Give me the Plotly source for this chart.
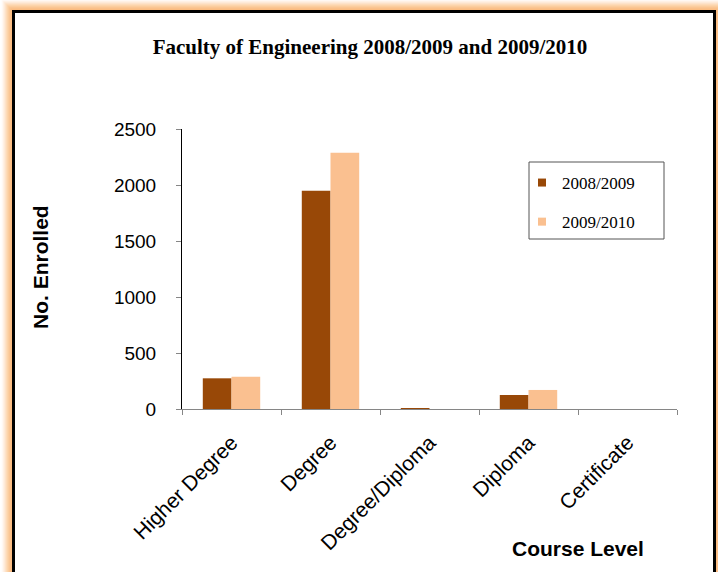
import plotly.graph_objects as go

# data
course_levels = ["Higher Degree", "Degree", "Degree/Diploma", "Diploma", "Certificate"]
enrolled_0809 = [274, 1949, 8, 125, 0]
enrolled_0910 = [288, 2288, 0, 170, 0]
series_names = ["2008/2009", "2009/2010"]
series_colors = ["#984807", "#FAC090"]

W_PX, H_PX = 718, 572
# plot area in pixels
L, R, T, B = 182, 677, 129, 409
SERIF = "Liberation Serif, Times New Roman, serif"
SANS = "Liberation Sans, Arial, sans-serif"


def px(x):
    """Pixel x to paper x."""
    return (x - L) / (R - L)


def py(y):
    """Pixel y to paper y."""
    return (B - y) / (B - T)


fig = go.Figure()
for name, vals, color in zip(series_names, [enrolled_0809, enrolled_0910], series_colors):
    fig.add_trace(
        go.Bar(
            x=course_levels,
            y=vals,
            name=name,
            marker=dict(color=color, line=dict(width=0)),
            showlegend=False,
        )
    )
    # legend entry with a small square swatch
    fig.add_trace(
        go.Scatter(
            x=[None], y=[None], mode="markers", name=name,
            marker=dict(symbol="square", size=8, color=color),
            legendgroup=name,
        )
    )

# orange glow + black frame around the whole chart
shapes = []
for i in range(12, 0, -1):
    a = 0.05 + (12 - i) * 0.025
    shapes.append(
        dict(
            type="rect", xref="paper", yref="paper", layer="below",
            x0=px(13.5 - i), x1=px(714.5 + i), y0=py(650), y1=py(11.5 - i),
            line=dict(width=0), fillcolor=f"rgba(251,180,110,{a:.3f})",
        )
    )
shapes.append(
    dict(
        type="rect", xref="paper", yref="paper", layer="below",
        x0=px(13.5), x1=px(714.5), y0=py(650), y1=py(11.5),
        line=dict(color="black", width=3), fillcolor="white",
    )
)
# legend box
shapes.append(
    dict(
        type="rect", xref="paper", yref="paper",
        x0=px(529), x1=px(664), y0=py(239), y1=py(162),
        line=dict(color="#555555", width=1), fillcolor="rgba(0,0,0,0)",
    )
)

fig.update_layout(
    width=W_PX,
    height=H_PX,
    template="none",
    paper_bgcolor="white",
    plot_bgcolor="rgba(0,0,0,0)",
    margin=dict(l=L, r=W_PX - R, t=T, b=H_PX - B, pad=0),
    barmode="group",
    bargap=0.42,
    bargroupgap=0,
    shapes=shapes,
    title=dict(
        text="<b>Faculty of Engineering 2008/2009 and 2009/2010</b>",
        font=dict(family=SERIF, size=21, color="black"),
        x=370 / W_PX, xref="container", xanchor="center",
        y=1 - 47 / H_PX, yref="container", yanchor="middle",
    ),
    legend=dict(
        x=px(522), y=py(165), xanchor="left", yanchor="top",
        bgcolor="rgba(0,0,0,0)", borderwidth=0,
        font=dict(family=SERIF, size=17, color="black"),
        traceorder="grouped", tracegroupgap=14,
    ),
    xaxis=dict(
        type="category",
        showline=True, linecolor="#868686", linewidth=1,
        ticks="outside", tickson="boundaries", ticklen=5, tickcolor="#868686",
        tickangle=-45, ticklabelstandoff=12,
        tickfont=dict(family=SANS, size=21, color="black"),
        showgrid=False, zeroline=False, automargin=False,
    ),
    yaxis=dict(
        range=[0, 2500], tick0=0, dtick=500,
        showline=True, linecolor="black", linewidth=1,
        ticks="outside", ticklen=5, tickcolor="#868686",
        ticklabelstandoff=16,
        tickfont=dict(family=SANS, size=19, color="black"),
        showgrid=False, zeroline=False, automargin=False,
    ),
    annotations=[
        dict(
            text="<b>No. Enrolled</b>", textangle=-90,
            xref="paper", yref="paper", x=px(40), y=py(267),
            xanchor="center", yanchor="middle", showarrow=False,
            font=dict(family=SANS, size=21, color="black"),
        ),
        dict(
            text="<b>Course Level</b>",
            xref="paper", yref="paper", x=px(578), y=py(548),
            xanchor="center", yanchor="middle", showarrow=False,
            font=dict(family=SANS, size=21, color="black"),
        ),
    ],
)

fig.write_html(
    "out.html",
    config={"displayModeBar": False},
    post_script="document.body.style.margin='0';",
)
